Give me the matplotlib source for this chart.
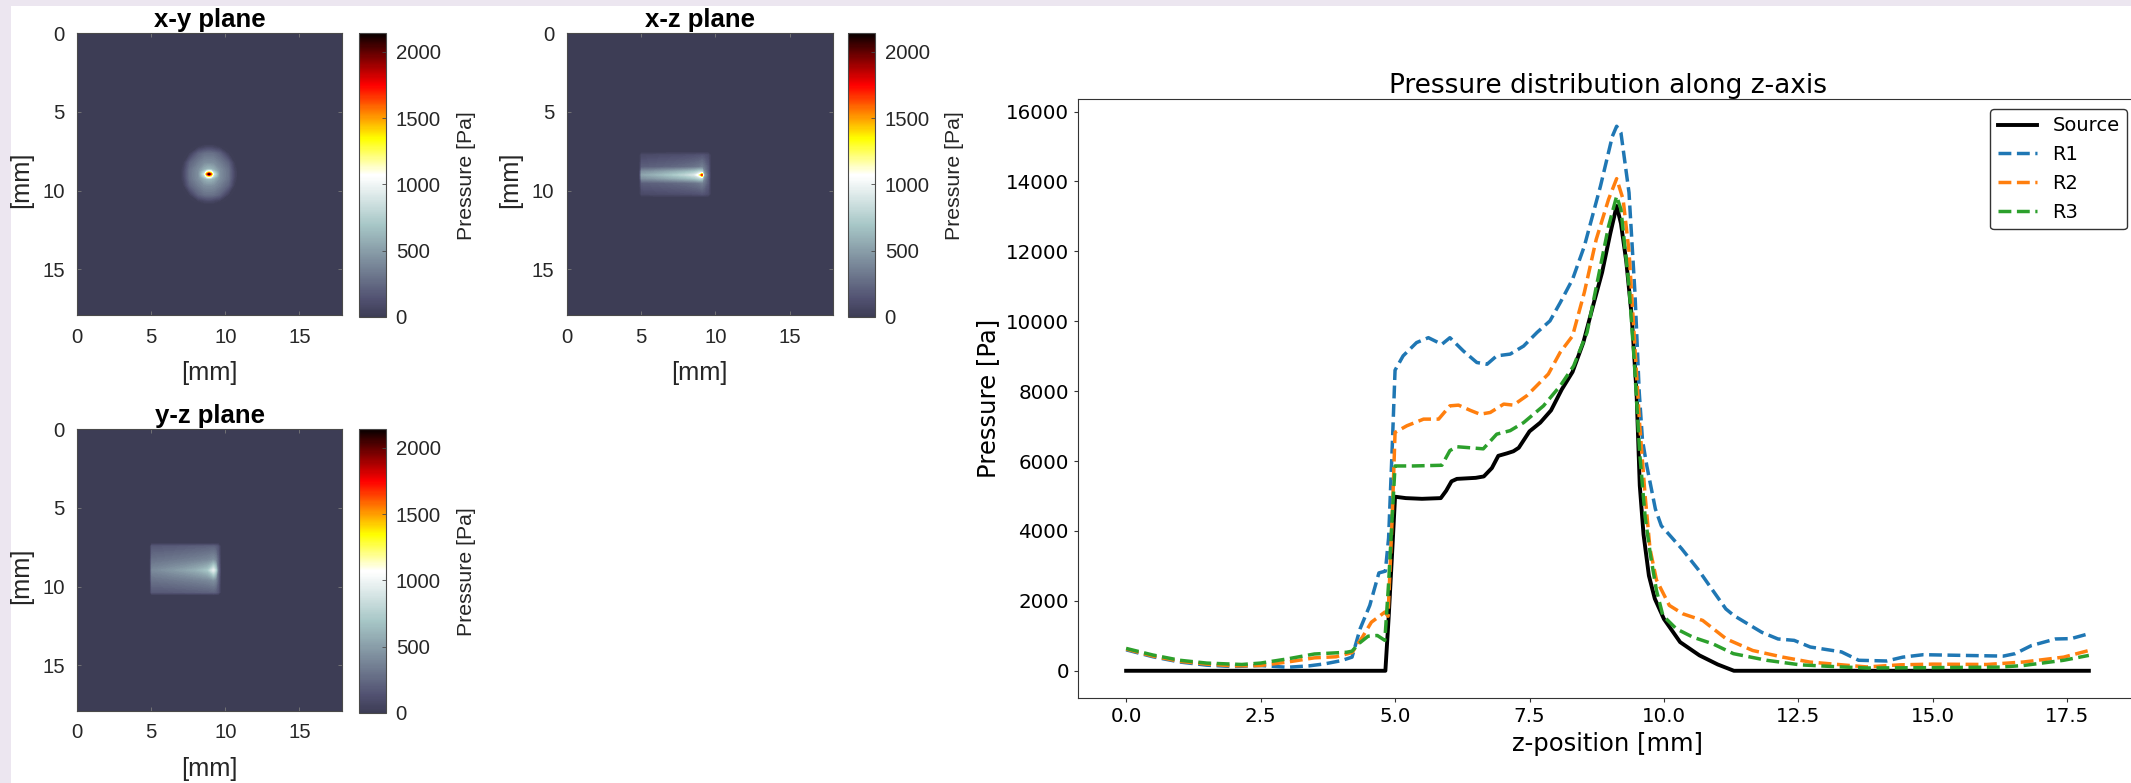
import numpy as np
import matplotlib
matplotlib.use('Agg')
import matplotlib.pyplot as plt
from matplotlib.colors import ListedColormap, Normalize
from matplotlib.cm import ScalarMappable
from matplotlib.patches import Rectangle

# ---------------- pressure along z (line plot) ----------------
src_z = [0.0, 4.82, 4.88, 4.95, 5.0, 5.2, 5.5, 5.85, 5.95, 6.05, 6.15, 6.5, 6.65, 6.8,
         6.92, 7.08, 7.2, 7.3, 7.5, 7.7, 7.9, 8.1, 8.3, 8.5, 8.7, 8.85, 9.0, 9.12, 9.2,
         9.3, 9.4, 9.49, 9.55, 9.62, 9.72, 9.83, 10.0, 10.3, 10.66, 11.0, 11.3, 17.9]
src_p = [0, 0, 1500, 3500, 4980, 4940, 4920, 4940, 5150, 5420, 5490, 5520, 5560, 5800,
         6150, 6220, 6280, 6380, 6850, 7100, 7450, 8050, 8550, 9390, 10550, 11400, 12500,
         13300, 12800, 11700, 10150, 7960, 5300, 3900, 2720, 2060, 1480, 820, 440, 180, 0, 0]

r1_z = [0.0, 0.5, 1.0, 1.5, 2.0, 2.5, 3.0, 3.4, 3.7, 4.0, 4.2, 4.35, 4.53, 4.7, 4.82,
        4.88, 4.95, 5.0, 5.15, 5.4, 5.62, 5.87, 6.02, 6.27, 6.52, 6.71, 6.89, 7.14, 7.39,
        7.64, 7.88, 8.07, 8.3, 8.52, 8.82, 9.04, 9.12, 9.2, 9.35, 9.46, 9.54, 9.6, 9.68,
        9.84, 9.95, 10.33, 10.63, 10.93, 11.15, 11.3, 11.82, 12.12, 12.42, 12.72, 13.3,
        13.62, 14.14, 14.44, 14.82, 15.56, 16.31, 16.53, 16.83, 17.28, 17.57, 17.9]
r1_p = [600, 400, 250, 160, 120, 150, 100, 140, 200, 290, 390, 1200, 1870, 2800, 2850,
        3800, 6500, 8600, 9010, 9390, 9530, 9340, 9530, 9150, 8820, 8770, 9010, 9060, 9290,
        9680, 10010, 10530, 11200, 12150, 13870, 15290, 15580, 15390, 13680, 10820, 7970,
        6600, 5870, 4630, 4150, 3490, 2910, 2250, 1770, 1580, 1100, 910, 870, 680, 540,
        300, 280, 390, 460, 440, 420, 490, 720, 910, 920, 1060]

r2_z = [0.0, 0.5, 1.0, 1.5, 2.0, 2.5, 3.0, 3.5, 3.9, 4.2, 4.4, 4.56, 4.7, 4.81, 4.87,
        4.95, 5.0, 5.22, 5.53, 5.81, 6.02, 6.18, 6.4, 6.58, 6.77, 7.02, 7.2, 7.45, 7.85,
        8.07, 8.3, 8.52, 8.74, 8.97, 9.12, 9.24, 9.35, 9.45, 9.55, 9.65, 9.74, 9.86, 10.1,
        10.35, 10.72, 11.16, 11.65, 12.21, 12.71, 13.46, 13.77, 14.39, 15.0, 16.0, 16.68,
        17.43, 17.9]
r2_p = [620, 420, 270, 190, 140, 150, 250, 370, 400, 520, 980, 1390, 1550, 1680, 1560,
        4500, 6820, 7010, 7200, 7200, 7580, 7600, 7450, 7340, 7390, 7630, 7600, 7870, 8490,
        9110, 9580, 10830, 12340, 13490, 14080, 13490, 12000, 9500, 7000, 5000, 3490, 2600,
        1870, 1630, 1440, 910, 580, 390, 250, 150, 110, 170, 190, 180, 250, 390, 580]

r3_z = [0.0, 0.5, 1.0, 1.5, 2.15, 2.5, 3.0, 3.5, 4.1, 4.2, 4.32, 4.5, 4.67, 4.81, 4.88,
        4.95, 5.0, 5.34, 5.87, 6.02, 6.15, 6.4, 6.64, 6.89, 7.14, 7.39, 7.76, 8.07, 8.32,
        8.57, 8.82, 8.97, 9.12, 9.2, 9.35, 9.45, 9.55, 9.65, 9.75, 9.86, 9.98, 10.23,
        10.54, 10.91, 11.29, 11.91, 12.53, 13.15, 13.77, 15.0, 16.25, 16.68, 17.43, 17.9]
r3_p = [640, 450, 300, 220, 180, 220, 340, 480, 530, 560, 770, 990, 1010, 870, 2500,
        4500, 5860, 5860, 5880, 6300, 6410, 6380, 6350, 6770, 6870, 7100, 7580, 8150, 8720,
        9680, 11580, 12720, 13580, 13200, 11000, 8800, 6200, 4400, 3300, 2300, 1580, 1200,
        960, 770, 490, 300, 170, 120, 80, 90, 105, 150, 300, 440]

# ---------------- pressure maps (nodes in mm, values in Pa) ----------------
xy_x = [0.0, 7.0, 7.2, 7.6, 8.2, 8.6, 8.78, 8.9, 9.02, 9.2, 9.6, 10.2, 10.6, 10.8, 17.9]
xy_y = [0.0, 7.05, 7.25, 7.65, 8.25, 8.65, 8.83, 8.95, 9.07, 9.25, 9.65, 10.25, 10.65, 10.85, 17.9]
xy_spot = [
    [0, 0, 20, 60, 80, 80, 80, 60, 20, 0, 0],
    [0, 20, 220, 280, 290, 290, 290, 280, 220, 20, 0],
    [20, 220, 350, 420, 430, 430, 430, 420, 350, 220, 20],
    [60, 280, 420, 560, 600, 620, 600, 560, 420, 280, 60],
    [80, 290, 430, 760, 1200, 1300, 1200, 760, 430, 290, 80],
    [80, 290, 430, 880, 1700, 2140, 1700, 880, 430, 290, 80],
    [80, 290, 430, 760, 1200, 1300, 1200, 760, 430, 290, 80],
    [60, 280, 420, 560, 600, 620, 600, 560, 420, 280, 60],
    [20, 220, 350, 420, 430, 430, 430, 420, 350, 220, 20],
    [0, 20, 220, 280, 290, 290, 290, 280, 220, 20, 0],
    [0, 0, 20, 60, 80, 80, 80, 60, 20, 0, 0],
]

xz_z = [0.0, 4.9, 5.05, 6.0, 7.0, 8.0, 8.6, 8.95, 9.1, 9.25, 9.5, 9.7, 17.9]
xz_x = [0.0, 7.55, 7.75, 8.5, 8.8, 9.0, 9.2, 9.5, 10.2, 10.4, 17.9]
xz_bar = [
    [90, 100, 110, 120, 130, 140, 150, 140, 110],
    [200, 220, 240, 270, 300, 330, 360, 300, 190],
    [430, 480, 550, 630, 700, 790, 750, 400, 210],
    [520, 590, 680, 790, 900, 1150, 1700, 500, 230],
    [430, 480, 550, 630, 700, 790, 750, 400, 210],
    [200, 220, 240, 270, 300, 330, 360, 300, 190],
    [90, 100, 110, 120, 130, 140, 150, 140, 110],
]

yz_z = [0.0, 4.9, 5.05, 6.5, 8.0, 8.8, 9.2, 9.35, 9.5, 9.7, 17.9]
yz_y = [0.0, 7.25, 7.45, 8.3, 8.96, 9.6, 10.35, 10.55, 17.9]
yz_bar = [
    [170, 180, 200, 210, 220, 200, 150],
    [290, 320, 360, 390, 430, 380, 230],
    [400, 470, 570, 680, 960, 780, 320],
    [290, 320, 360, 390, 430, 380, 230],
    [170, 180, 200, 210, 220, 200, 150],
]

p_max = 2140
cbar_ticks = [0, 500, 1000, 1500, 2000]
mm_ticks = [0, 5, 10, 15]

# k-Wave style map: upper part of bone, then reversed hot
neg = plt.get_cmap('bone')(np.linspace(48 / 175, 1, 128))
pos = plt.get_cmap('hot')(np.linspace(1, 0, 128))
kw_cmap = ListedColormap(np.vstack([neg, pos]))
norm = Normalize(0, p_max)

W, H = 2131, 783
fig = plt.figure(figsize=(W / 100, H / 100), dpi=100)
fig.patch.set_facecolor('#ece6f0')
fig.add_artist(Rectangle((11 / W, 0), 1, 1 - 6 / H, transform=fig.transFigure,
                         facecolor='white', edgecolor='none', zorder=-5))


def px_axes(x0, y0, x1, y1):
    return fig.add_axes([x0 / W, 1 - y1 / H, (x1 - x0) / W, (y1 - y0) / H])


ML = 'Liberation Sans'
plt.rcParams['font.family'] = ML
levels = np.linspace(0, p_max, 215)


def plane(box, cbox, xs, ys, vals, title):
    ax = px_axes(*box)
    ax.set_facecolor(kw_cmap(0))
    ax.contourf(xs, ys, vals, levels=levels, cmap=kw_cmap, norm=norm)
    ax.set_xlim(0, 17.9)
    ax.set_ylim(17.9, 0)
    ax.set_xticks(mm_ticks)
    ax.set_yticks(mm_ticks)
    ax.tick_params(direction='in', length=3, width=0.6, color='#7a7a7a', labelcolor='#262626',
                   labelsize=14.7, top=True, right=True, pad=9)
    for s in ax.spines.values():
        s.set_color('#4a4a4a')
        s.set_linewidth(0.8)
    ax.set_title(title, fontsize=18.5, fontweight='bold', family=ML, pad=4.8)
    ax.set_xlabel('[mm]', fontsize=18.4, family=ML, color='#262626')
    ax.set_ylabel('[mm]', fontsize=18.4, family=ML, color='#262626')
    ax.xaxis.set_label_coords(0.5, -0.165)
    ax.yaxis.set_label_coords(-0.166, 0.48)

    cax = px_axes(*cbox)
    cb = fig.colorbar(ScalarMappable(norm=norm, cmap=kw_cmap), cax=cax, ticks=cbar_ticks)
    cb.outline.set_edgecolor('#4a4a4a')
    cb.outline.set_linewidth(0.8)
    cax.tick_params(direction='in', length=3, width=0.6, color='#4a4a4a', labelcolor='#262626',
                    labelsize=14.7, pad=7)
    cb.set_label('Pressure [Pa]', fontsize=15.3, family=ML, color='#262626')
    cax.yaxis.set_label_coords(3.63, 0.5)


plane((77.3, 33.3, 342.3, 315), (359, 33.3, 386, 317),
      xy_x, xy_y, np.pad(np.array(xy_spot, float), 2), 'x-y plane')
plane((566.7, 33.3, 832.7, 315), (848.3, 33.3, 875, 317),
      xz_z, xz_x, np.pad(np.array(xz_bar, float), 2), 'x-z plane')
plane((77.3, 429.3, 342.3, 710.7), (359, 429.3, 386, 713),
      yz_z, yz_y, np.pad(np.array(yz_bar, float), 2), 'y-z plane')

# ---------------- right: pressure distribution along z ----------------
plt.rcParams['font.family'] = 'DejaVu Sans'
ax = px_axes(1078, 99, 2137, 698)
ax.plot(src_z, src_p, color='black', lw=2.8, label='Source')
ax.plot(r1_z, r1_p, '--', color='#1f77b4', lw=2.5, label='R1')
ax.plot(r2_z, r2_p, '--', color='#ff7f0e', lw=2.5, label='R2')
ax.plot(r3_z, r3_p, '--', color='#2ca02c', lw=2.5, label='R3')
ax.set_title('Pressure distribution along z-axis', fontsize=19, pad=4)
ax.set_xlabel('z-position [mm]', fontsize=17.5)
ax.set_ylabel('Pressure [Pa]', fontsize=17.5)
ax.tick_params(labelsize=14.3, length=3, color='#333333')
for s in ax.spines.values():
    s.set_color('#333333')
leg = ax.legend(loc='upper right', fontsize=14, framealpha=1, edgecolor='#333333')

fig.savefig('out.png', dpi=100, facecolor=fig.get_facecolor())
